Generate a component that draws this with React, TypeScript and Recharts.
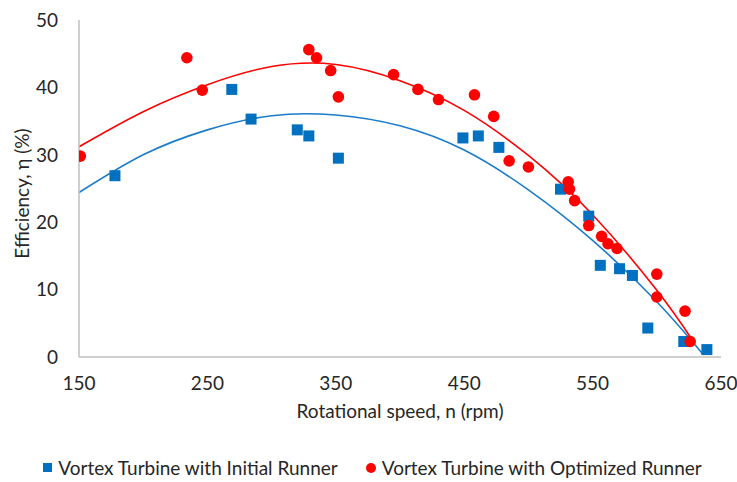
import React from 'react';
import { ComposedChart, Scatter, Line, XAxis, YAxis, Legend } from 'recharts';

document.body.style.margin = '0';

// measured points, initial runner
const initialRpm = [178, 269, 284, 320, 329, 352, 449, 461, 477, 525, 547, 556, 571, 581, 593, 621, 639];
const initialEff = [26.9, 39.7, 35.3, 33.7, 32.8, 29.5, 32.5, 32.8, 31.1, 24.9, 20.9, 13.6, 13.1, 12.1, 4.3, 2.3, 1.1];

// measured points, optimized runner
const optimizedRpm = [151, 234, 246, 329, 335, 346, 352, 395, 414, 430, 458, 473, 485, 500, 531, 532, 536, 547, 557, 562, 569, 600, 600, 622, 626];
const optimizedEff = [29.8, 44.4, 39.6, 45.6, 44.4, 42.5, 38.6, 41.9, 39.7, 38.2, 38.9, 35.7, 29.1, 28.2, 26.0, 24.9, 23.2, 19.5, 17.9, 16.8, 16.1, 12.3, 8.9, 6.8, 2.3];

// trend lines
const initialTrendRpm = [150, 200, 250, 300, 350, 400, 450, 500, 550, 600, 636];
const initialTrendEff = [24.4, 30.0, 33.7, 35.8, 35.9, 34.3, 30.7, 24.8, 17.3, 8.2, 0.4];
const optimizedTrendRpm = [150, 200, 250, 300, 350, 400, 450, 500, 550, 600, 626];
const optimizedTrendEff = [31.2, 36.4, 40.4, 43.1, 43.4, 41.0, 36.6, 29.9, 21.1, 9.9, 3.0];

const xTicks = [150, 250, 350, 450, 550, 650];
const yTicks = [0, 10, 20, 30, 40, 50];

const zip = (xs: number[], ys: number[]) => xs.map((x, i) => ({ x, y: ys[i] }));

const initialData = zip(initialRpm, initialEff);
const optimizedData = zip(optimizedRpm, optimizedEff);
const initialTrend = zip(initialTrendRpm, initialTrendEff);
const optimizedTrend = zip(optimizedTrendRpm, optimizedTrendEff);

const BLUE = '#0070C0';
const RED = '#FF0000';
const FONT = 'Lato, sans-serif';
const TEXT = '#262626';
const FS = 19;

const Square = (props: any) => (
  <rect x={props.cx - 5.5} y={props.cy - 5.5} width={11} height={11} fill={BLUE} />
);
const Dot = (props: any) => <circle cx={props.cx} cy={props.cy} r={5.8} fill={RED} />;

const LegendContent = () => (
  <div style={{ display: 'flex', justifyContent: 'center', alignItems: 'center', fontFamily: FONT, fontSize: FS, color: TEXT, marginLeft: 24 }}>
    <span style={{ display: 'inline-block', width: 9, height: 9, background: BLUE, marginRight: 6 }} />
    <span style={{ marginRight: 28 }}>Vortex Turbine with Initial Runner</span>
    <span style={{ display: 'inline-block', width: 10, height: 10, borderRadius: 5, background: RED, marginRight: 6 }} />
    <span>Vortex Turbine with Optimized Runner</span>
  </div>
);

const App: React.FC = () => {
  return (
    <div style={{ width: 737, height: 482, background: '#fff' }}>
      <ComposedChart width={737} height={482} margin={{ top: 20, right: 16, bottom: 2, left: 0 }}>
        <XAxis
          dataKey="x"
          type="number"
          domain={[150, 650]}
          ticks={xTicks}
          height={99}
          tickLine={false}
          tickMargin={14}
          axisLine={{ stroke: '#bfbfbf', strokeWidth: 1.5 }}
          tick={{ fill: TEXT, fontSize: FS, fontFamily: FONT }}
          allowDataOverflow
          label={{ value: 'Rotational speed, n (rpm)', position: 'center', dy: 5, fill: TEXT, fontSize: FS, fontFamily: FONT }}
        />
        <YAxis
          type="number"
          domain={[0, 50]}
          ticks={yTicks}
          width={79}
          tickLine={false}
          tickMargin={15}
          axisLine={{ stroke: '#bfbfbf', strokeWidth: 1.5 }}
          tick={{ fill: TEXT, fontSize: FS, fontFamily: FONT }}
          label={{ value: 'Efficiency, η (%)', angle: -90, position: 'center', dx: -17, dy: 5, fill: TEXT, fontSize: FS, fontFamily: FONT }}
        />
        <Legend verticalAlign="bottom" height={24} content={<LegendContent />} />
        <Line data={initialTrend} dataKey="y" type="natural" stroke="#1C7CCB" strokeWidth={1.6} dot={false} legendType="none" isAnimationActive={false} />
        <Line data={optimizedTrend} dataKey="y" type="natural" stroke={RED} strokeWidth={1.6} dot={false} legendType="none" isAnimationActive={false} />
        <Scatter name="Vortex Turbine with Initial Runner" data={initialData} dataKey="y" fill={BLUE} shape={Square} isAnimationActive={false} />
        <Scatter name="Vortex Turbine with Optimized Runner" data={optimizedData} dataKey="y" fill={RED} shape={Dot} isAnimationActive={false} />
      </ComposedChart>
    </div>
  );
};

export default App;
